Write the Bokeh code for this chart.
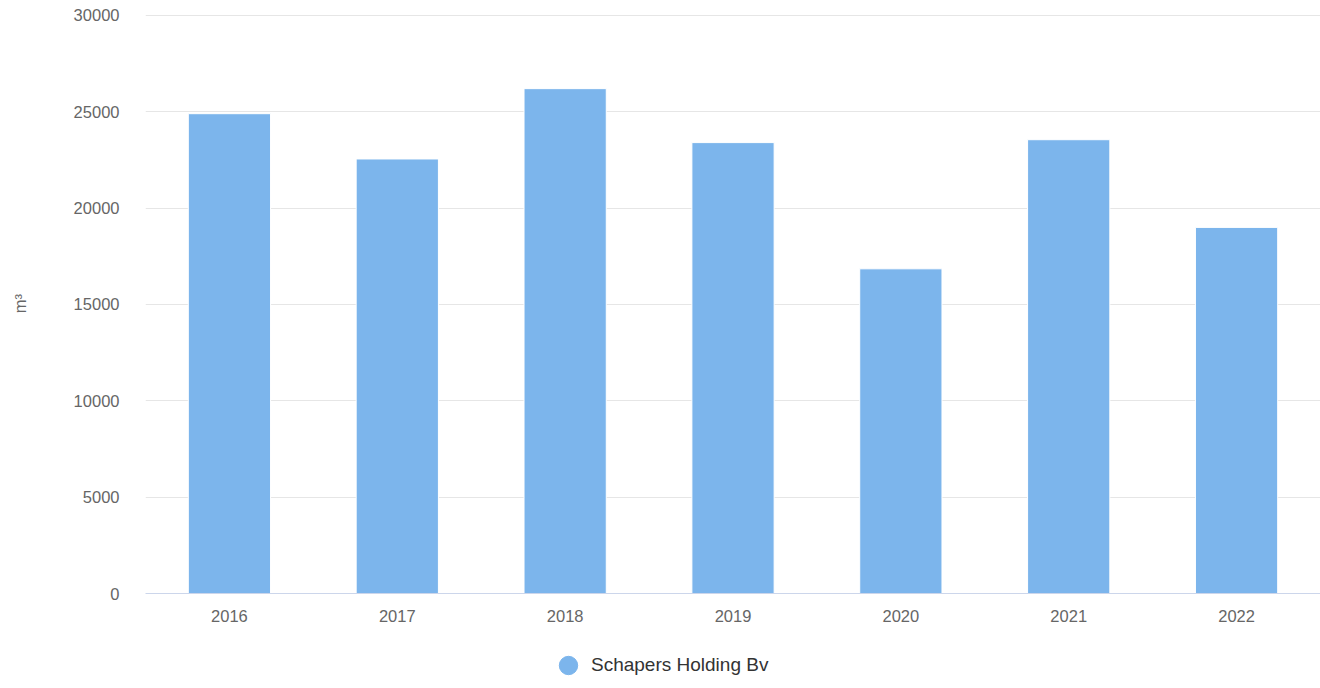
from bokeh.plotting import figure
from bokeh.layouts import column
from bokeh.models import (ColumnDataSource, FactorRange, Range1d, Legend, LegendItem,
                          SingleIntervalTicker, NumeralTickFormatter)
from bokeh.embed import file_html
from bokeh.resources import INLINE

years = ["2016", "2017", "2018", "2019", "2020", "2021", "2022"]
volumes = [24900, 22550, 26200, 23400, 16850, 23550, 19000]
series_name = "Schapers Holding Bv"
y_label = "m³"

FONT = "Liberation Sans"
BAR_COLOR = "#7cb5ec"

src = ColumnDataSource(data=dict(year=years, volume=volumes))

p = figure(
    width=1320, height=642,
    x_range=FactorRange(*years, range_padding=0),
    y_range=Range1d(0, 30100),
    output_backend="svg", toolbar_location=None,
    min_border_left=145, min_border_right=0, min_border_top=13, min_border_bottom=49,
)
p.outline_line_color = None
p.background_fill_color = "white"
p.border_fill_color = "white"

p.vbar(x="year", top="volume", width=0.49, source=src,
       fill_color=BAR_COLOR, line_color="white", line_width=1)

# y axis
ya = p.yaxis[0]
ya.ticker = SingleIntervalTicker(interval=5000)
ya.formatter = NumeralTickFormatter(format="0")
ya.axis_line_color = None
ya.major_tick_line_color = None
ya.minor_tick_line_color = None
ya.major_tick_out = 0
ya.major_tick_in = 0
ya.major_label_standoff = 22
ya.major_label_text_font = FONT
ya.major_label_text_font_size = "16.5px"
ya.major_label_text_color = "#666666"
ya.axis_label = y_label
ya.axis_label_standoff = 42
ya.axis_label_text_font = FONT
ya.axis_label_text_font_size = "16.5px"
ya.axis_label_text_font_style = "normal"
ya.axis_label_text_color = "#666666"

# x axis
xa = p.xaxis[0]
xa.axis_line_color = "#ccd6eb"
xa.axis_line_width = 1
xa.major_tick_line_color = None
xa.minor_tick_line_color = None
xa.major_tick_out = 0
xa.major_tick_in = 0
xa.major_label_standoff = 16
xa.major_label_text_font = FONT
xa.major_label_text_font_size = "16.5px"
xa.major_label_text_color = "#666666"

p.xgrid.grid_line_color = None
p.ygrid.grid_line_color = "#e6e6e6"
p.ygrid.grid_line_width = 1

# legend strip below the chart (its frame is aligned with the chart frame)
lf = figure(
    width=1320, height=46,
    x_range=Range1d(0, 1), y_range=Range1d(0, 1),
    output_backend="svg", toolbar_location=None,
    min_border_left=0, min_border_right=0, min_border_top=0, min_border_bottom=0,
)
lf.axis.visible = False
lf.grid.visible = False
lf.outline_line_color = None

# series marker for the legend; its points fall far outside this strip's ranges
dot = lf.scatter(x="volume", y="volume", source=src,
                 marker="circle", fill_color=BAR_COLOR, line_color=BAR_COLOR, size=19)

legend = Legend(
    items=[LegendItem(label=series_name, renderers=[dot])],
    location=(400, 0),
    orientation="horizontal",
    glyph_width=46, glyph_height=46,
    label_standoff=0,
    padding=0, margin=0, spacing=0,
    border_line_color=None,
    background_fill_alpha=0,
    label_text_font=FONT,
    label_text_font_size="19px",
    label_text_color="#333333",
    label_text_baseline="middle",
)
lf.add_layout(legend, "center")

layout = column(p, lf, spacing=0)
open("out.html", "w").write(file_html(layout, INLINE))
